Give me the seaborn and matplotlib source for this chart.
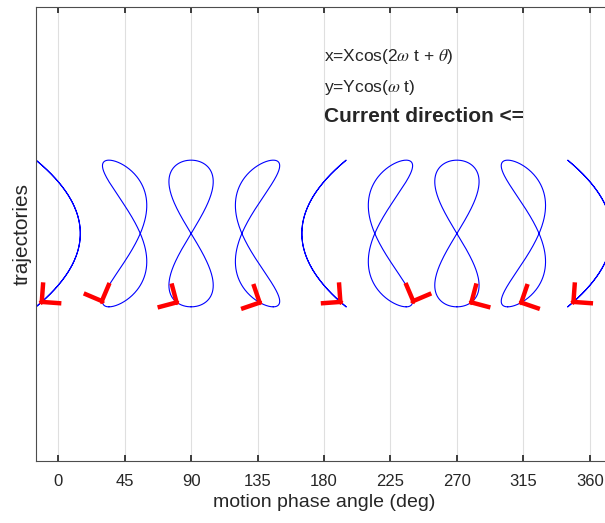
import numpy as np
import pandas as pd
import seaborn as sns
from matplotlib import pyplot as plt

# phase angles (deg) of each trajectory
phases = [0, 45, 90, 135, 180, 225, 270, 315, 360]
tick_labels = ["0", "45", "90", "135", "180", "225", "270", "315", "360"]
X_amp = 15.0     # horizontal amplitude (deg)
Y_amp = 1.0      # vertical amplitude
arrow_lag = 0.28  # where the arrow head sits, rad before end of cycle

sns.set_theme(style="white")
plt.rcParams['font.family'] = ['Liberation Sans', 'DejaVu Sans']
plt.rcParams['mathtext.fontset'] = 'stix'

# x = -Xcos(2wt + theta), y = Ycos(wt), wt from pi to 3pi
wt = np.linspace(np.pi, 3 * np.pi, 400)
rows = []
for p in phases:
    th = np.deg2rad(p)
    xs = p - X_amp * np.cos(2 * wt + th)
    ys = Y_amp * np.cos(wt)
    rows.append(pd.DataFrame({"x": xs, "y": ys, "phase": p}))
df = pd.concat(rows, ignore_index=True)

fig = plt.figure(figsize=(6.05, 5.23), dpi=100)
ax = fig.add_axes([36 / 605, 62.5 / 523, 576 / 605, 454 / 523])

sns.lineplot(data=df, x="x", y="y", units="phase", estimator=None, sort=False,
             color="blue", lw=0.8, ax=ax)

# arrow heads showing the current direction
for p in phases:
    th = np.deg2rad(p)
    s1 = 3 * np.pi - arrow_lag
    s0 = s1 - 0.03
    tip = (p - X_amp * np.cos(2 * s1 + th), Y_amp * np.cos(s1))
    back = (p - X_amp * np.cos(2 * s0 + th), Y_amp * np.cos(s0))
    ax.annotate("", xy=tip, xytext=back,
                arrowprops=dict(arrowstyle="->,head_length=0.5,head_width=0.5",
                                color="red", lw=3.2, shrinkA=0, shrinkB=0,
                                mutation_scale=20, joinstyle="miter",
                                capstyle="butt"))

ax.set_xlim(-15, 375)
ax.set_ylim(-3.095, 3.095)
ax.set_xticks(phases)
ax.set_xticklabels(tick_labels)
ax.set_yticks([])
ax.grid(axis="x", color="#dfdfdf", lw=0.8)
ax.tick_params(axis="x", direction="in", length=4, colors="#262626",
               labelsize=12, top=True, bottom=True, pad=9.5)
for s in ax.spines.values():
    s.set_color("#4d4d4d")
    s.set_linewidth(0.8)

ax.set_xlabel("motion phase angle (deg)", fontsize=14, color="#262626", labelpad=4)
ax.set_ylabel("trajectories", fontsize=15, color="#262626", labelpad=3)

ax.text(180, 2.41, r"x=Xcos(2$\omega$ t + $\theta$)", fontsize=12.5, va="center")
ax.text(180, 1.99, r"y=Ycos($\omega$ t)", fontsize=12.5, va="center")
ax.text(180, 1.60, "Current direction <=", fontsize=15, fontweight="bold", va="center")

plt.savefig("out.png", dpi=100)
